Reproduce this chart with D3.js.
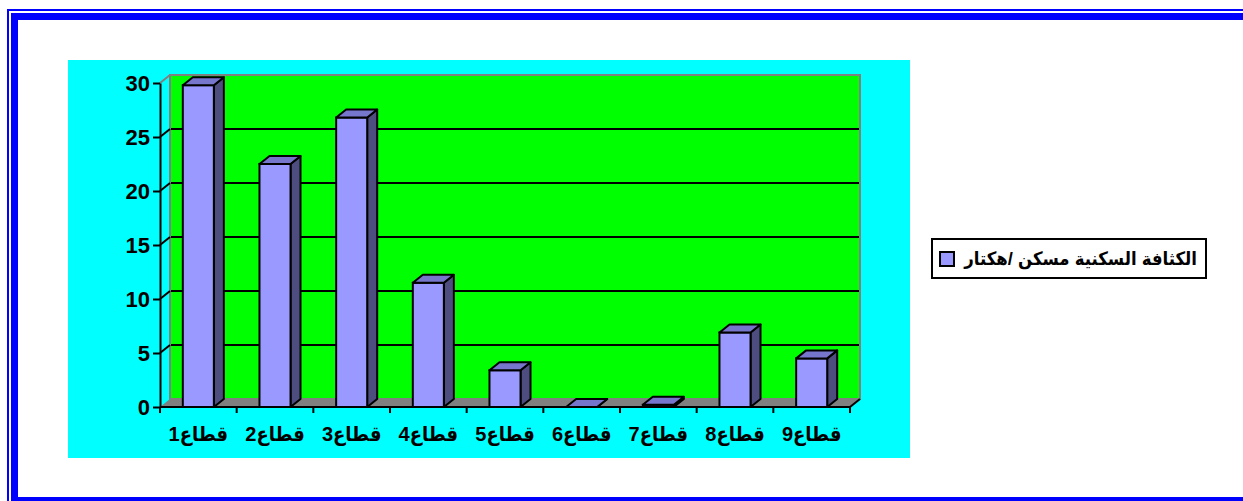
<!DOCTYPE html>
<html>
<head>
<meta charset="utf-8">
<script src="https://cdn.jsdelivr.net/npm/d3@7"></script>
<style>
  html, body { margin: 0; padding: 0; background: #ffffff; }
  svg { display: block; }
  text { font-family: "Liberation Sans", Arial, "DejaVu Sans Condensed", "DejaVu Sans", sans-serif; font-weight: bold; fill: #000; }
</style>
</head>
<body>
<svg id="chart" width="1243" height="501"></svg>
<script>
// Housing density per sector (dwellings / hectare)
const categories = ["قطاع1", "قطاع2", "قطاع3", "قطاع4", "قطاع5", "قطاع6", "قطاع7", "قطاع8", "قطاع9"];
const values = [29.8, 22.5, 26.8, 11.5, 3.4, 0, 0.2, 6.9, 4.5];
const yTicks = [0, 5, 10, 15, 20, 25, 30];
const seriesName = "الكثافة السكنية مسكن /هكتار";

const svg = d3.select("#chart");

// 3D depth offset of the plot box
const DX = 10, DY = -8;

const y = d3.scaleLinear().domain([0, 30]).range([407, 83]);
const x = d3.scaleBand().domain(categories).range([160, 850]).padding(0);
const barW = x.bandwidth() * 0.405;

// double blue frame (continues past the right and bottom edges)
svg.append("rect").attr("x", 8).attr("y", 10).attr("width", 1300).attr("height", 600)
  .attr("fill", "none").attr("stroke", "#0000ff").attr("stroke-width", 2);
svg.append("rect").attr("x", 14.5).attr("y", 16.5).attr("width", 1300).attr("height", 484)
  .attr("fill", "none").attr("stroke", "#0000ff").attr("stroke-width", 7);

// chart area background
svg.append("rect").attr("x", 68).attr("y", 60).attr("width", 842).attr("height", 398).attr("fill", "#00ffff");

const x0 = x.range()[0], x1 = x.range()[1];
const yb = y(0), yt = y(30);

// back wall
svg.append("rect")
  .attr("x", x0 + DX).attr("y", yt + DY)
  .attr("width", x1 - x0).attr("height", yb - yt)
  .attr("fill", "#00ff00").attr("stroke", "#808080").attr("stroke-width", 2);

// gridlines on back wall
const grid = yTicks.filter(t => t > 0 && t < 30);
svg.append("g").selectAll("line").data(grid).join("line")
  .attr("x1", x0 + DX + 1).attr("x2", x1 + DX - 1)
  .attr("y1", d => y(d) + DY).attr("y2", d => y(d) + DY)
  .attr("stroke", "#000").attr("stroke-width", 2);

// side wall diagonals
svg.append("g").selectAll("line").data(yTicks.filter(t => t > 0)).join("line")
  .attr("x1", x0).attr("x2", x0 + DX)
  .attr("y1", d => y(d)).attr("y2", d => y(d) + DY)
  .attr("stroke", d => d === 30 ? "#808080" : "#000").attr("stroke-width", 2);

// floor
svg.append("polygon")
  .attr("points", [[x0, yb], [x1, yb], [x1 + DX, yb + DY], [x0 + DX, yb + DY]].map(p => p.join(",")).join(" "))
  .attr("fill", "#808080").attr("stroke", "none");

// y axis
const yAxis = svg.append("g").attr("transform", `translate(${x0},0)`)
  .call(d3.axisLeft(y).tickValues(yTicks).tickSize(7).tickSizeOuter(0).tickPadding(3));
yAxis.select(".domain").attr("stroke", "#000").attr("stroke-width", 2);
yAxis.selectAll(".tick line").attr("stroke", "#000").attr("stroke-width", 2);
yAxis.selectAll(".tick text").style("font-size", "22px").attr("fill", "#000");

// x axis front edge, boundary ticks, right diagonal
svg.append("line").attr("x1", x0).attr("x2", x1).attr("y1", yb).attr("y2", yb)
  .attr("stroke", "#000").attr("stroke-width", 2);
const bounds = categories.map(c => x(c)).concat([x1]);
svg.append("g").selectAll("line").data(bounds).join("line")
  .attr("x1", d => d).attr("x2", d => d).attr("y1", yb).attr("y2", yb + 6)
  .attr("stroke", "#000").attr("stroke-width", 2);
svg.append("line").attr("x1", x1).attr("y1", yb).attr("x2", x1 + DX).attr("y2", yb + DY)
  .attr("stroke", "#000").attr("stroke-width", 2);

// 3D bars
const bars = svg.append("g").selectAll("g").data(categories.map((c, i) => ({ c, v: values[i] }))).join("g");
bars.each(function (d) {
  const g = d3.select(this);
  const bx = x(d.c) + (x.bandwidth() - barW) / 2;
  const top = y(d.v);
  const pts = a => a.map(p => p.join(",")).join(" ");
  // side face
  g.append("polygon")
    .attr("points", pts([[bx + barW, top], [bx + barW + DX, top + DY], [bx + barW + DX, yb + DY], [bx + barW, yb]]))
    .attr("fill", "#4d4d80").attr("stroke", "#000").attr("stroke-width", 2).attr("stroke-linejoin", "round");
  // front face
  g.append("rect").attr("x", bx).attr("y", top).attr("width", barW).attr("height", yb - top)
    .attr("fill", "#9999ff").attr("stroke", "#000").attr("stroke-width", 2);
  // top face
  g.append("polygon")
    .attr("points", pts([[bx, top], [bx + DX, top + DY], [bx + barW + DX, top + DY], [bx + barW, top]]))
    .attr("fill", "#7676cc").attr("stroke", "#000").attr("stroke-width", 2).attr("stroke-linejoin", "round");
});

// category labels
const xAxis = svg.append("g").attr("transform", `translate(0,${yb})`)
  .call(d3.axisBottom(x).tickSize(0).tickPadding(20));
xAxis.select(".domain").remove();
xAxis.selectAll(".tick text").style("font-size", "20px").attr("fill", "#000");

// legend
const lg = svg.append("g");
lg.append("rect").attr("x", 932).attr("y", 239).attr("width", 274).attr("height", 39)
  .attr("fill", "#fff").attr("stroke", "#000").attr("stroke-width", 2);
lg.append("rect").attr("x", 940).attr("y", 252).attr("width", 14).attr("height", 14)
  .attr("fill", "#9999ff").attr("stroke", "#000").attr("stroke-width", 2);
lg.append("text").attr("x", 1197).attr("y", 265).attr("text-anchor", "end")
  .style("font-size", "18.4px").text(seriesName);
</script>
</body>
</html>
